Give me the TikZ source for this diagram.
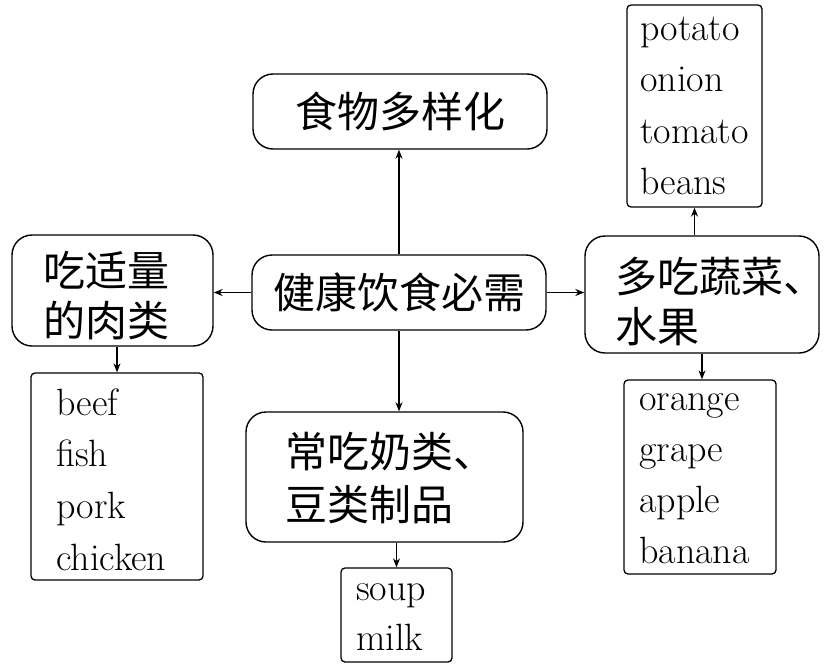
\documentclass[tikz,border=0pt]{standalone}
\usepackage{fontspec}
\newfontfamily\cjk{Noto Sans CJK SC}
\usetikzlibrary{arrows.meta}
\newcommand\stk[1]{\vtop{\halign{##\hfil\cr#1\crcr}}}
\tikzset{
  rbox/.style={draw, line width=1.4pt, rounded corners=20pt, inner sep=0pt},
  lbox/.style={draw, line width=1.3pt, rounded corners=4pt, inner sep=0pt},
  cjkbig/.style={font=\cjk\fontsize{42}{50}\selectfont},
  cjktxt/.style={inner sep=0pt, anchor=base west},
  entxt/.style={inner sep=0pt, anchor=base west},
  arr/.style={line width=1.2pt, -{Stealth[length=9pt,width=7pt]}}
}
\begin{document}
\begin{tikzpicture}[x=1pt,y=-1pt]
\useasboundingbox (0,0) rectangle (833,667);
% main rounded boxes
\node[rbox, cjkbig, minimum width=294pt, minimum height=75pt] (food) at (400,111.5) {食物多样化};
\node[rbox, cjkbig, minimum width=294pt, minimum height=75pt] (health) at (399,292.5) {健康饮食必需};
\node[rbox, minimum width=201pt, minimum height=111pt] (meat) at (112.5,290.5) {};
\node[rbox, minimum width=234pt, minimum height=117pt] (veg) at (702,294.5) {};
\node[rbox, minimum width=277pt, minimum height=130pt] (dairy) at (384.5,477) {};
% list boxes
\node[lbox, minimum width=135pt, minimum height=202pt] (potB) at (694.5,106) {};
\node[lbox, minimum width=172pt, minimum height=207pt] (beefB) at (117,476.5) {};
\node[lbox, minimum width=152pt, minimum height=194pt] (fruitB) at (700,477) {};
\node[lbox, minimum width=111pt, minimum height=94pt] (soupB) at (396.5,615) {};
% texts
\node[cjktxt, font=\cjk\fontsize{42}{50}\selectfont] (meatT) at (43,286) {\stk{吃适量\cr 的肉类}};
\node[cjktxt, font=\cjk\fontsize{42}{50}\selectfont] (vegT) at (615,292) {\stk{多吃蔬菜、\cr 水果}};
\node[cjktxt, font=\cjk\fontsize{42}{53}\selectfont] (dairyT) at (285,467) {\stk{常吃奶类、\cr 豆类制品}};
\node[entxt, font=\fontsize{38}{51.5}\selectfont] (potT) at (640,40) {\stk{potato\cr onion\cr tomato\cr beans}};
\node[entxt, font=\fontsize{38}{51.7}\selectfont] (beefT) at (56,415) {\stk{beef\cr fish\cr pork\cr chicken}};
\node[entxt, font=\fontsize{38}{51}\selectfont] (fruitT) at (639,410) {\stk{orange\cr grape\cr apple\cr banana}};
\node[entxt, font=\fontsize{38}{50}\selectfont] (soupT) at (356,600) {\stk{soup\cr milk}};
% connectors
\draw[arr] (health.north) -- (health.north |- food.south);
\draw[arr] (health.west) -- (health.west -| meat.east);
\draw[arr] (health.east) -- (health.east -| veg.west);
\draw[arr] (health.south) -- (health.south |- dairy.north);
\draw[arr] (beefB.north |- meat.south) -- (beefB.north);
\draw[arr] (potB.south |- veg.north) -- (potB.south);
\draw[arr] (veg.south) -- (veg.south |- fruitB.north);
\draw[arr] (soupB.north |- dairy.south) -- (soupB.north);
\end{tikzpicture}
\end{document}
